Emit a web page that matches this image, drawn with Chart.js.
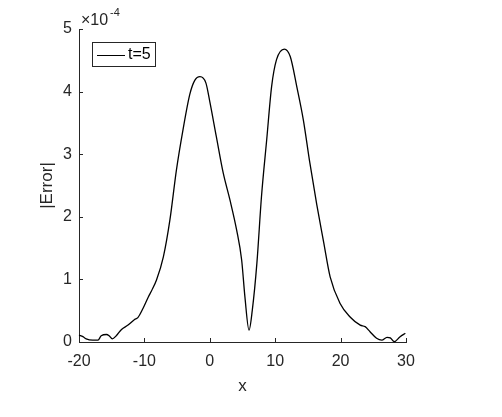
<!DOCTYPE html>
<html>
<head>
<meta charset="utf-8">
<script src="https://cdn.jsdelivr.net/npm/chart.js@4/dist/chart.umd.min.js"></script>
<style>
  html, body { margin: 0; padding: 0; background: #fff; }
  #wrap { width: 502px; height: 417px; }
</style>
</head>
<body>
<div id="wrap"><canvas id="c" width="502" height="417"></canvas></div>
<script>
// |Error| at t=5, values in units of 1e-4
const xs = [-20, -19.4, -18.9, -17.9, -17.1, -16.6, -15.8, -15.4, -14.9, -14.3, -13.5, -12.5, -11.5, -11.0,
            -10.2, -9.4, -8.9, -8.15, -7.1, -6.1, -5.1, -4.1, -3.05, -2.3, -1.5, -0.6, 0.0, 1.0, 2.05, 3.08,
            4.1, 4.87, 5.37, 6.0, 6.5, 7.2, 7.9, 8.7, 9.45, 10.2, 11.4, 12.3, 13.3, 14.3, 15.3, 16.35,
            17.4, 18.4, 19.9, 21.45, 23.0, 23.75, 24.5, 25.5, 26.3, 27.1, 27.6, 28.2, 29.1, 29.9];
const errT5 = [0.11, 0.085, 0.05, 0.03, 0.03, 0.10, 0.12, 0.10, 0.05, 0.10, 0.20, 0.27, 0.36, 0.39,
               0.54, 0.72, 0.82, 0.99, 1.36, 1.95, 2.75, 3.39, 3.96, 4.18, 4.24, 4.14, 3.84, 3.28, 2.70, 2.27,
               1.79, 1.31, 0.72, 0.19, 0.51, 1.26, 2.32, 3.23, 4.08, 4.51, 4.68, 4.56, 4.08, 3.55, 2.86, 2.2,
               1.6, 1.04, 0.62, 0.40, 0.27, 0.245, 0.165, 0.06, 0.03, 0.075, 0.065, 0.005, 0.085, 0.14];
const xTicks = [-20, -10, 0, 10, 20, 30];
const yTicks = [0, 1, 2, 3, 4, 5];
const yExponent = -4;
const seriesLabel = 't=5';
const xTitle = 'x';
const yTitle = '|Error|';

const FONT = '"Liberation Sans", Arial, sans-serif';
const INK = '#262626';

const points = xs.map((x, i) => ({ x: x, y: errT5[i] }));

// inward ticks, axis titles, exponent label and legend box, MATLAB style
const matlabDecor = {
  id: 'matlabDecor',
  afterDraw(chart) {
    const ctx = chart.ctx;
    const sx = chart.scales.x, sy = chart.scales.y;
    const a = chart.chartArea;
    ctx.save();
    ctx.strokeStyle = INK;
    ctx.lineWidth = 1;
    ctx.beginPath();
    xTicks.forEach(v => {
      const px = Math.round(sx.getPixelForValue(v)) + 0.5;
      ctx.moveTo(px, a.bottom);
      ctx.lineTo(px, a.bottom - 4);
    });
    yTicks.forEach(v => {
      const py = Math.round(sy.getPixelForValue(v)) + 0.5;
      ctx.moveTo(a.left, py);
      ctx.lineTo(a.left + 4, py);
    });
    ctx.stroke();

    ctx.fillStyle = INK;
    // axis titles
    ctx.font = '17px ' + FONT;
    ctx.textAlign = 'center';
    ctx.textBaseline = 'middle';
    ctx.fillText(xTitle, (a.left + a.right) / 2, a.bottom + 44);
    ctx.save();
    ctx.translate(a.left - 32, (a.top + a.bottom) / 2);
    ctx.rotate(-Math.PI / 2);
    ctx.fillText(yTitle, 0, 0);
    ctx.restore();

    // exponent
    ctx.textAlign = 'left';
    ctx.textBaseline = 'alphabetic';
    ctx.font = '16px ' + FONT;
    ctx.fillText('\u00d710', a.left + 2, a.top - 4);
    ctx.font = '11px ' + FONT;
    ctx.fillText(String(yExponent), a.left + 31, a.top - 13);

    // legend
    const lx = a.left + 13, ly = a.top + 13, lw = 63, lh = 24;
    ctx.fillStyle = '#fff';
    ctx.fillRect(lx, ly, lw, lh);
    ctx.strokeStyle = INK;
    ctx.strokeRect(lx + 0.5, ly + 0.5, lw, lh);
    ctx.strokeStyle = '#000';
    ctx.beginPath();
    ctx.moveTo(lx + 5, ly + 13.5);
    ctx.lineTo(lx + 33, ly + 13.5);
    ctx.stroke();
    ctx.fillStyle = '#000';
    ctx.font = '16px ' + FONT;
    ctx.textBaseline = 'middle';
    ctx.fillText(seriesLabel, lx + 36, ly + 13);
    ctx.restore();
  }
};

new Chart(document.getElementById('c'), {
  type: 'scatter',
  data: {
    datasets: [{
      label: seriesLabel,
      data: points,
      showLine: true,
      borderColor: '#000',
      borderWidth: 1.3,
      pointRadius: 0,
      cubicInterpolationMode: 'monotone',
      clip: false
    }]
  },
  options: {
    responsive: false,
    animation: false,
    events: [],
    layout: { padding: { top: 29, right: 96, left: 0, bottom: 0 } },
    plugins: { legend: { display: false }, tooltip: { enabled: false } },
    scales: {
      x: {
        type: 'linear',
        min: -20, max: 30,
        afterBuildTicks: s => { s.ticks = xTicks.map(v => ({ value: v })); },
        afterFit: s => { s.height = 75; },
        grid: { display: false, drawTicks: false },
        border: { display: true, color: INK, width: 1 },
        ticks: { color: INK, font: { family: FONT, size: 16 }, padding: 10, maxRotation: 0 }
      },
      y: {
        type: 'linear',
        min: 0, max: 5,
        afterBuildTicks: s => { s.ticks = yTicks.map(v => ({ value: v })); },
        afterFit: s => { s.width = 79; },
        grid: { display: false, drawTicks: false },
        border: { display: true, color: INK, width: 1 },
        ticks: { color: INK, font: { family: FONT, size: 16 }, padding: 7 }
      }
    }
  },
  plugins: [matlabDecor]
});
</script>
</body>
</html>
